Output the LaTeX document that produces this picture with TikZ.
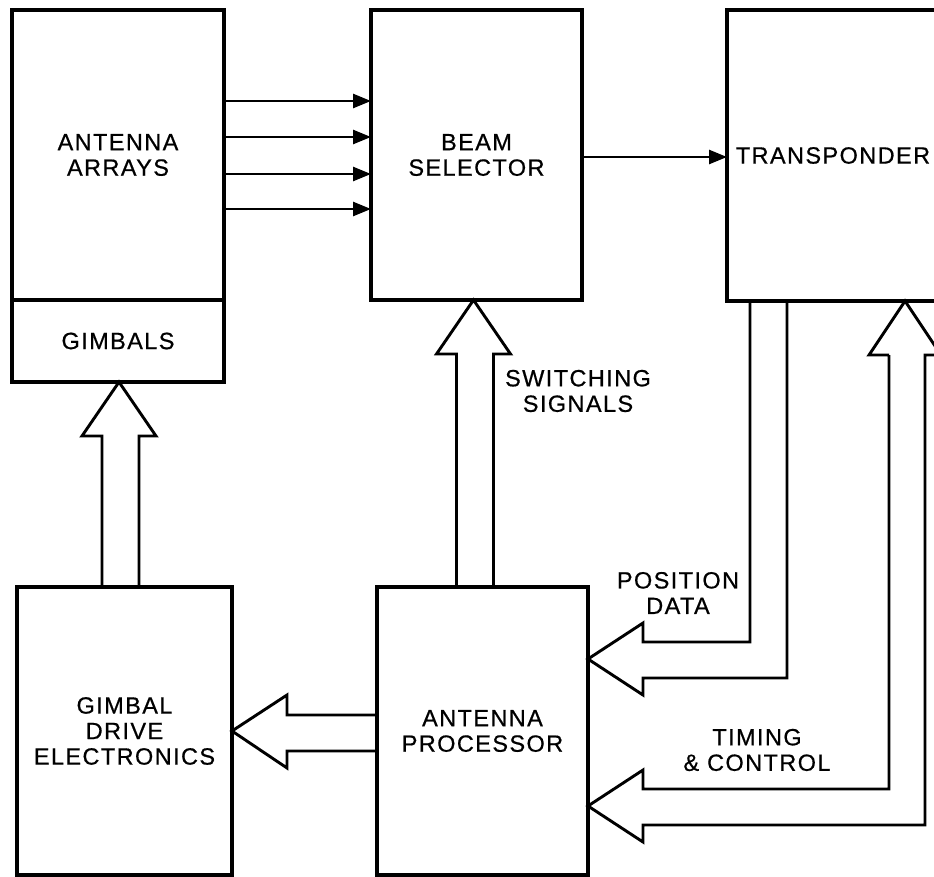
\documentclass[tikz,border=0pt]{standalone}
\usepackage{fontspec}
\setmainfont{Liberation Sans}[LetterSpace=6,FakeBold=0.6]
\usetikzlibrary{arrows.meta,calc}
\newcommand\lblfont{\fontsize{23.5}{25.5}\selectfont}
\begin{document}
\begin{tikzpicture}[x=1pt,y=-1pt,
  box/.style={draw,line width=3.4pt,inner sep=0pt,outer sep=0pt,align=center,font=\lblfont,anchor=north west},
  thinarrow/.style={line width=2.6pt,-{Triangle[length=18pt,width=14pt]}},
  hollow/.style={line width=2.9pt,line join=miter},
  lab/.style={align=center,font=\lblfont}]
\useasboundingbox (0,0) rectangle (934,877);
\clip (0,0) rectangle (934,877);
\fill[white] (0,0) rectangle (934,877);

% boxes
\node[box,minimum width=212pt,minimum height=290pt] (arrays) at (12,10) {ANTENNA\\ARRAYS};
\node[box,minimum width=212pt,minimum height=82pt] (gimbals) at (12,300) {GIMBALS};
\node[box,minimum width=211pt,minimum height=290pt] (beam) at (371,10) {BEAM\\SELECTOR};
\node[box,minimum width=212pt,minimum height=291pt] (transp) at (727,10) {TRANSPONDER};
\node[box,minimum width=215pt,minimum height=288pt] (drive) at (17,587) {GIMBAL\\DRIVE\\ELECTRONICS};
\node[box,minimum width=211pt,minimum height=288pt] (proc) at (377,587) {ANTENNA\\PROCESSOR};

% thin arrows
\foreach \yy in {101,137,174,209}
  \draw[thinarrow] (arrays.east |- 0,\yy) -- (beam.west |- 0,\yy);
\draw[thinarrow] (beam.east |- 0,157) -- (transp.west |- 0,157);

% key coordinates
\coordinate (gt) at ($(gimbals.south)+(1,0)$);
\path (gt) ++(-17,0) coordinate (gL) ++(37,0) coordinate (gR);
\coordinate (st) at ($(beam.south)+(-3,0)$);
\path (st) ++(-17,0) coordinate (sL) ++(37,0) coordinate (sR);
\coordinate (dt) at (drive.east);
\path (dt) ++(0,-16) coordinate (dU) ++(0,36) coordinate (dD);
\coordinate (pt) at ($(proc.east)+(0,-72)$);
\coordinate (pa) at ($(transp.south west)+(23,0)$);
\coordinate (pb) at ($(transp.south west)+(60,0)$);
\coordinate (tt) at ($(proc.east)+(0,75)$);
\coordinate (ut) at ($(transp.south)+(72,0)$);

% gimbal drive -> gimbals
\draw[hollow] (gL |- drive.north) |- ($(gt)+(-37,54)$) -- (gt) -- ($(gt)+(37,54)$) -| (gR |- drive.north);
% processor -> beam selector
\draw[hollow] (sL |- proc.north) |- ($(st)+(-37,54)$) -- (st) -- ($(st)+(37,54)$) -| (sR |- proc.north);
% processor -> gimbal drive
\draw[hollow] (proc.west |- dU) -| ($(dt)+(55,-36)$) -- (dt) -- ($(dt)+(55,37)$) |- (proc.west |- dD);
% position data: transponder -> processor
\draw[hollow] (pa) |- ($(pt)+(55,-17)$) -- ($(pt)+(55,-36)$) -- (pt) -- ($(pt)+(55,36)$) -- ($(pt)+(55,19)$) -| (pb);
% timing & control: two-way
\draw[hollow] ($(ut)+(-16,54)$) -- ($(ut)+(-36,54)$) -- (ut) -- ($(ut)+(36,54)$) -- ($(ut)+(20,54)$)
  |- ($(tt)+(55,19)$) -- ($(tt)+(55,36)$) -- (tt) -- ($(tt)+(55,-36)$) -- ($(tt)+(55,-17)$) -| ($(ut)+(-16,54)$);

% labels
\node[lab] (sw) at (578,391) {SWITCHING\\SIGNALS};
\node[lab] (pd) at (678,593) {POSITION\\DATA};
\node[lab] (tc) at (757,750) {TIMING\\\& CONTROL};
\end{tikzpicture}
\end{document}
